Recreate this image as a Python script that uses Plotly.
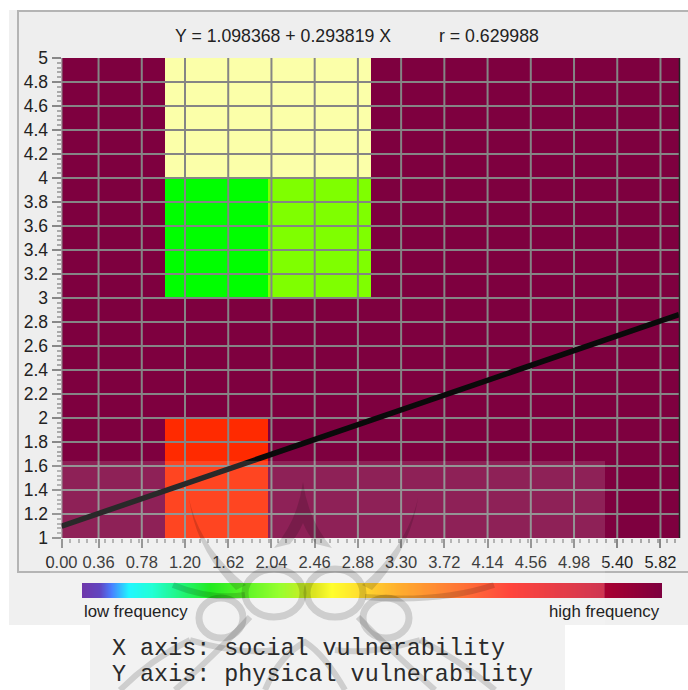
import plotly.graph_objects as go

W, H = 688, 690
# ---- data ----
x_edges = [0, 1, 2, 3, 4, 5, 6]
y_edges = [1, 2, 3, 4, 5]
# frequency class per cell: 0 pale, 1 green, 2 lime, 3 red, 4 maroon
z_rows = [
    [4, 3, 4, 4, 4, 4],
    [4, 4, 4, 4, 4, 4],
    [4, 1, 2, 4, 4, 4],
    [4, 0, 0, 4, 4, 4],
]
x_ticks = [0.0, 0.36, 0.78, 1.2, 1.62, 2.04, 2.46, 2.88, 3.3, 3.72, 4.14, 4.56, 4.98, 5.4, 5.82]
x_labels = ["0.00", "0.36", "0.78", "1.20", "1.62", "2.04", "2.46", "2.88", "3.30", "3.72", "4.14", "4.56", "4.98", "5.40", "5.82"]
y_ticks = [1, 1.2, 1.4, 1.6, 1.8, 2, 2.2, 2.4, 2.6, 2.8, 3, 3.2, 3.4, 3.6, 3.8, 4, 4.2, 4.4, 4.6, 4.8, 5]
y_labels = ["1", "1.2", "1.4", "1.6", "1.8", "2", "2.2", "2.4", "2.6", "2.8", "3", "3.2", "3.4", "3.6", "3.8", "4", "4.2", "4.4", "4.6", "4.8", "5"]
line_x = [0, 6]
line_y = [1.098368, 2.861282]
legend_steps = [list(range(581))]

cell_scale = [[0, "#fbffa9"], [0.125, "#fbffa9"], [0.125, "#00ff00"], [0.375, "#00ff00"],
              [0.375, "#7fff00"], [0.625, "#7fff00"], [0.625, "#ff2a00"], [0.875, "#ff2a00"],
              [0.875, "#7e003f"], [1, "#7e003f"]]
legend_scale = [[0, "#5a1a9e"], [0.03, "#4a2ab8"], [0.05, "#2f6cff"], [0.08, "#00f5ff"], [0.12, "#00ffd0"],
                [0.22, "#00e800"], [0.34, "#88ff10"], [0.40, "#d8e000"], [0.43, "#ffff10"],
                [0.55, "#ffa010"], [0.74, "#ff2a20"], [0.90, "#c81838"], [0.902, "#a80030"], [1, "#7e003f"]]

def px(v): return v / W
def py(v): return 1 - v / H
def pxr(a, b): return [px(a), px(b)]

fig = go.Figure()
fig.add_trace(go.Heatmap(x=x_edges, y=y_edges, z=z_rows, zmin=0, zmax=4, colorscale=cell_scale,
                         showscale=False, hoverinfo="skip"))
grid_x, grid_y = [], []
for t in x_ticks:
    grid_x += [t, t, None]; grid_y += [1, 5, None]
for t in y_ticks[1:-1]:
    grid_x += [0, 6, None]; grid_y += [t, t, None]
fig.add_trace(go.Scatter(x=grid_x, y=grid_y, mode="lines", line=dict(color="#858585", width=2), hoverinfo="skip"))
fig.add_trace(go.Scatter(x=line_x, y=line_y, mode="lines", line=dict(color="#0a0a0a", width=5.5), hoverinfo="skip"))
fig.add_trace(go.Heatmap(z=legend_steps, xaxis="x2", yaxis="y2", colorscale=legend_scale,
                         showscale=False, hoverinfo="skip"))

def rect(x0, y0, x1, y1, fill, line=None, layer="below"):
    return dict(type="rect", xref="paper", yref="paper", x0=px(x0), x1=px(x1), y0=py(y1), y1=py(y0),
                fillcolor=fill, line=dict(color=line or "rgba(0,0,0,0)", width=2 if line else 0), layer=layer)

INK = "rgba(0,0,0,0.15)"
def curve(d, width=6, fill=False):
    out = []
    isx = True
    for t in d.split():
        if t.isalpha():
            out.append(t); isx = True
        else:
            out.append(f"{px(float(t)):.5f}" if isx else f"{py(float(t)):.5f}")
            isx = not isx
    s = dict(type="path", xref="paper", yref="paper", path=" ".join(out),
             line=dict(color=INK, width=width), layer="above")
    if fill:
        s["fillcolor"] = INK
        s["line"] = dict(width=0)
    return s

def ring(cx, cy, rx, ry, width=7):
    return dict(type="circle", xref="paper", yref="paper", x0=px(cx - rx), x1=px(cx + rx),
                y0=py(cy + ry), y1=py(cy - ry), line=dict(color=INK, width=width), layer="above")

shapes = [
    rect(9, 10, 688, 625, "#f0f0f0"),
    rect(18, 11, 700, 572, "#eeeeee", "#b4b4b4"),
    rect(90, 625, 565, 690, "#f0f0f0"),
    dict(type="line", xref="paper", yref="paper", x0=px(679.5), x1=px(679.5), y0=py(58), y1=py(538),
         line=dict(color="#222222", width=1.5), layer="above"),
    rect(50, 461, 605, 690, "rgba(255,255,255,0.13)", layer="above"),
]
horns = [
    "M 303 482 Q 298 520 274 548 L 290 544 Q 298 535 303 523 Q 308 535 316 544 L 332 548 Q 308 520 303 482 Z",
    "M 189 498 Q 198 545 246 585 L 236 590 Q 196 550 189 498 Z",
    "M 418 498 Q 408 545 362 585 L 372 590 Q 410 550 418 498 Z",
]
strokes = [
    "M 173 585 Q 210 600 245 595",
    "M 365 597 Q 440 603 494 585",
    "M 250 617 Q 220 650 175 690",
    "M 358 617 Q 390 650 435 690",
    "M 190 640 Q 240 655 275 650",
    "M 420 640 Q 370 655 335 650",
    "M 265 690 Q 280 655 305 642 Q 325 655 345 690",
    "M 120 690 Q 150 660 190 640",
    "M 495 690 Q 460 660 420 640",
]
shapes += [curve(d, fill=True) for d in horns]
shapes += [curve(d, 6) for d in strokes]
shapes += [ring(274, 593, 29, 24), ring(335, 593, 28, 24), ring(221, 618, 22, 20), ring(386, 618, 23, 20)]

mono = "Liberation Mono, monospace"
sans = "Liberation Sans, Arial, sans-serif"
def text(x, y, s, size, font=sans, color="#222222", anchor="left"):
    return dict(x=px(x), y=py(y), xref="paper", yref="paper", text=s, showarrow=False, xanchor=anchor, yanchor="middle",
                font=dict(family=font, size=size, color=color))

annotations = [
    text(173, 36, "Y = 1.098368 + 0.293819 X", 17.7),
    text(437, 36, "r = 0.629988", 17.7),
    text(82, 611, "low frequency", 16.8),
    text(662, 611, "high frequency", 16.8, anchor="right"),
    text(110, 649, "X axis: social vulnerability", 23.4, mono, "#2a2a2a"),
    text(110, 675, "Y axis: physical vulnerability", 23.4, mono, "#2a2a2a"),
]

x_font = dict(family=sans, size=16.5, color="#222222")
y_font = dict(family=sans, size=17.5, color="#222222")
fig.update_layout(
    width=W, height=H, margin=dict(l=0, r=0, t=0, b=0, pad=0, autoexpand=False), paper_bgcolor="#ffffff", plot_bgcolor="rgba(0,0,0,0)",
    showlegend=False, shapes=shapes, annotations=annotations,
    xaxis=dict(domain=pxr(61.5, 679), range=[0, 6], tickmode="array", tickvals=x_ticks, ticktext=x_labels, ticks="outside",
               ticklen=9, tickwidth=2, tickcolor="#888888", tickfont=x_font, showgrid=False, zeroline=False, showline=False,
               tickangle=0,
               minor=dict(ticks="outside", ticklen=4, tickwidth=1.5, tickcolor="#aaaaaa", dtick=0.084, tick0=0, showgrid=False)),
    yaxis=dict(domain=[py(538), py(58)], range=[1, 5], tickmode="array", tickvals=y_ticks, ticktext=y_labels, ticks="outside",
               ticklen=9, tickwidth=2, tickcolor="#888888", tickfont=y_font, showgrid=False, zeroline=False, showline=False,
               minor=dict(ticks="outside", ticklen=4, tickwidth=1.5, tickcolor="#aaaaaa", dtick=0.04, tick0=1, showgrid=False)),
    xaxis2=dict(domain=pxr(82, 662), anchor="y2", visible=False),
    yaxis2=dict(domain=[py(598), py(583)], anchor="x2", visible=False),
)
fig.write_html("out.html", config=dict(displayModeBar=False),
               post_script="document.body.style.margin='0';document.documentElement.style.overflow='hidden';")
